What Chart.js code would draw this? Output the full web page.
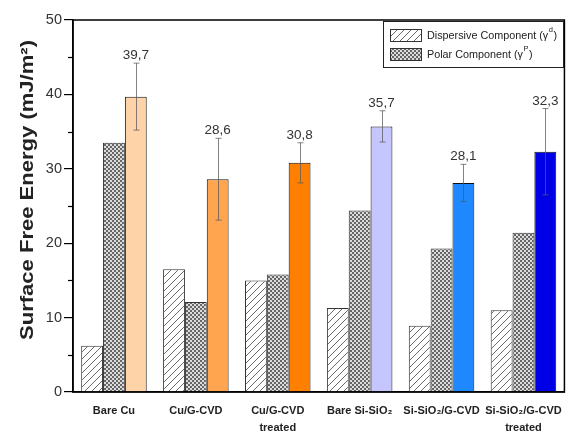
<!DOCTYPE html>
<html><head><meta charset="utf-8">
<script src="https://cdn.jsdelivr.net/npm/chart.js@4/dist/chart.umd.min.js"></script>
<style>html,body{margin:0;padding:0;background:#fff}#wrap{width:573px;height:434px}</style>
</head><body><div id="wrap"><canvas id="c" width="573" height="434"></canvas></div>
<script>
const categories = [['Bare Cu'], ['Cu/G-CVD'], ['Cu/G-CVD', 'treated'], ['Bare Si-SiO₂'], ['Si-SiO₂/G-CVD'], ['Si-SiO₂/G-CVD', 'treated']];
const dispersive = [6.2, 16.5, 15.0, 11.3, 8.9, 11.0];
const polar = [33.5, 12.1, 15.8, 24.4, 19.3, 21.4];
const total = [39.7, 28.6, 30.8, 35.7, 28.1, 32.3];
const totalError = [4.5, 5.5, 2.7, 2.1, 2.5, 5.8];
const totalLabels = ['39,7', '28,6', '30,8', '35,7', '28,1', '32,3'];
const totalColors = ['#FFD3A8', '#FFA54F', '#FF7F00', '#C6C6FF', '#1E88FF', '#0000E6'];
const yTicks = [0, 10, 20, 30, 40, 50];
const yTitle = 'Surface Free Energy (mJ/m²)';
const legendItems = [['Dispersive Component (γ', 'd', ')'], ['Polar Component (γ', 'P', ')']];

const FONT = 'Arial, "Liberation Sans", sans-serif';

function makeHatch() {
  const c = document.createElement('canvas'); c.width = 7; c.height = 7;
  const g = c.getContext('2d');
  g.fillStyle = '#fff'; g.fillRect(0, 0, 7, 7);
  g.strokeStyle = '#6a6a6a'; g.lineWidth = 1;
  g.beginPath();
  g.moveTo(0, 7); g.lineTo(7, 0);
  g.moveTo(-1, 1); g.lineTo(1, -1);
  g.moveTo(6, 8); g.lineTo(8, 6);
  g.stroke();
  return g.createPattern(c, 'repeat');
}
function makeCheck() {
  const c = document.createElement('canvas'); c.width = 4; c.height = 4;
  const g = c.getContext('2d');
  g.fillStyle = '#dcdcdc'; g.fillRect(0, 0, 4, 4);
  g.fillStyle = '#666'; g.fillRect(0, 0, 2, 2); g.fillRect(2, 2, 2, 2);
  return g.createPattern(c, 'repeat');
}
const hatchP = makeHatch();
const checkP = makeCheck();

const extras = {
  id: 'extras',
  afterDatasetsDraw(chart) {
    const ctx = chart.ctx, y = chart.scales.y;
    const meta = chart.getDatasetMeta(2);
    ctx.save();
    meta.data.forEach((bar, i) => {
      const x = Math.round(bar.x) + 0.5;
      const yt = y.getPixelForValue(total[i] + totalError[i]);
      const yb = y.getPixelForValue(total[i] - totalError[i]);
      ctx.strokeStyle = 'rgba(90,90,90,0.75)';
      ctx.lineWidth = 1;
      ctx.beginPath();
      ctx.moveTo(x, yt); ctx.lineTo(x, yb);
      ctx.moveTo(x - 3, yt); ctx.lineTo(x + 3, yt);
      ctx.moveTo(x - 3, yb); ctx.lineTo(x + 3, yb);
      ctx.stroke();
      ctx.fillStyle = '#333';
      ctx.font = '13.5px ' + FONT;
      ctx.textAlign = 'center'; ctx.textBaseline = 'alphabetic';
      ctx.fillText(totalLabels[i], bar.x, yt - 4);
    });
    ctx.restore();
  },
  afterDraw(chart) {
    const ctx = chart.ctx, a = chart.chartArea, y = chart.scales.y;
    ctx.save();
    // minor ticks
    ctx.strokeStyle = '#000'; ctx.lineWidth = 1.2;
    for (let v = 5; v < 50; v += 10) {
      const py = Math.round(y.getPixelForValue(v)) + 0.5;
      ctx.beginPath(); ctx.moveTo(a.left - 5, py); ctx.lineTo(a.left, py); ctx.stroke();
    }
    // frame
    ctx.lineWidth = 1.5; ctx.strokeStyle = '#000';
    ctx.strokeRect(a.left, a.top, a.right - a.left, a.bottom - a.top);
    // y title
    ctx.save();
    ctx.translate(28, 190);
    ctx.rotate(-Math.PI / 2);
    ctx.font = 'bold 18px ' + FONT;
    const w = ctx.measureText(yTitle).width;
    ctx.scale(300 / w, 1);
    ctx.fillStyle = '#222';
    ctx.textAlign = 'center'; ctx.textBaseline = 'middle';
    ctx.fillText(yTitle, 0, 0);
    ctx.restore();
    // legend
    ctx.lineWidth = 1; ctx.strokeStyle = '#222';
    ctx.strokeRect(383.5, 21.5, 180, 46);
    const pats = [hatchP, checkP];
    legendItems.forEach((it, i) => {
      const sy = 29 + i * 19;
      ctx.fillStyle = pats[i]; ctx.fillRect(390, sy, 32, 13);
      ctx.strokeStyle = '#333'; ctx.strokeRect(390.5, sy + 0.5, 31, 12);
      ctx.fillStyle = '#222'; ctx.textBaseline = 'middle'; ctx.textAlign = 'left';
      ctx.font = '10.8px ' + FONT;
      let x = 427;
      ctx.fillText(it[0], x, sy + 7);
      x += ctx.measureText(it[0]).width;
      ctx.font = '7.5px ' + FONT;
      ctx.fillText(it[1], x + 0.5, sy + 1);
      x += ctx.measureText(it[1]).width + 1;
      ctx.font = '10.8px ' + FONT;
      ctx.fillText(it[2], x, sy + 7);
    });
    ctx.restore();
  }
};

new Chart(document.getElementById('c'), {
  type: 'bar',
  data: {
    labels: categories,
    datasets: [
      { label: 'Dispersive Component', data: dispersive, backgroundColor: hatchP, borderColor: '#333', borderWidth: 1 },
      { label: 'Polar Component', data: polar, backgroundColor: checkP, borderColor: '#333', borderWidth: 1 },
      { label: 'Surface Free Energy', data: total, backgroundColor: totalColors, borderColor: '#111', borderWidth: 1 }
    ]
  },
  options: {
    responsive: false, animation: false, devicePixelRatio: 1,
    layout: { padding: { left: 0, right: 4, top: 20, bottom: 0 } },
    datasets: { bar: { categoryPercentage: 0.8, barPercentage: 1.0 } },
    plugins: { legend: { display: false }, tooltip: { enabled: false } },
    scales: {
      x: {
        grid: { display: false, drawTicks: false },
        border: { display: true, color: '#000', width: 1.5 },
        ticks: { font: { family: FONT, weight: 'bold', size: 11, lineHeight: 1.5 }, color: '#222', padding: 11, maxRotation: 0, autoSkip: false },
        afterFit(a) { a.height = 42; }
      },
      y: {
        min: 0, max: 50,
        afterBuildTicks(a) { a.ticks = yTicks.map(v => ({ value: v })); },
        ticks: { font: { family: FONT, size: 14.5 }, color: '#333', padding: 2 },
        grid: { drawOnChartArea: false, tickLength: 9, color: '#000', lineWidth: 1.2 },
        border: { color: '#000', width: 1.5 },
        afterFit(a) { a.width = 73; }
      }
    }
  },
  plugins: [extras]
});
</script>
</body></html>
